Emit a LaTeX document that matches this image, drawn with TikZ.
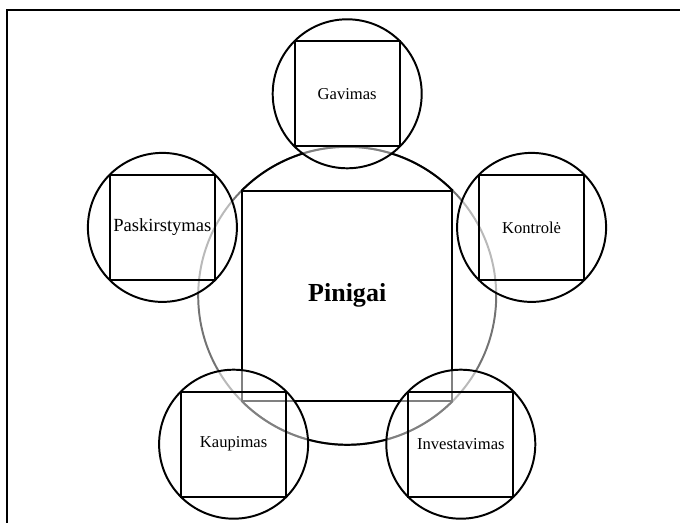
\documentclass[tikz,border=0pt]{standalone}
\usepackage{fontspec}
\setmainfont{Liberation Serif}
\usetikzlibrary{positioning}

\begin{document}
\begin{tikzpicture}[
    ring/.style={draw, circle, line width=1.4pt, fill=white, fill opacity=0.5, minimum size=3.725cm, inner sep=0pt},
    cell/.style={draw, line width=1.4pt, minimum size=2.625cm, inner sep=0pt, font=\fontsize{11.8}{14}\selectfont, align=center},
    hubline/.style={line width=1.4pt},
]
\useasboundingbox (0,0) rectangle (17,13.075);

% Frame
\draw[line width=1.5pt] (0.175,0) -- (0.175,12.825) -- (17,12.825);

% Centre: Pinigai
\coordinate (mid) at (8.68,5.68);
\draw[hubline, black!55] (mid) circle[radius=3.725cm];
\draw[hubline] ([shift={(45:3.725cm)}]mid) arc[start angle=45, end angle=135, radius=3.725cm];
\draw[hubline] ([shift={(225:3.725cm)}]mid) arc[start angle=225, end angle=315, radius=3.725cm];
\node[cell, minimum size=5.25cm, font=\fontsize{18.5}{22}\selectfont\bfseries] (pin) at (mid) {Pinigai};

% Outer rings
\node[ring] (gavR) at (8.68,10.73) {};
\node[ring] (pasR) at (4.06,7.39) {};
\node[ring] (konR) at (13.29,7.39) {};
\node[ring] (kauR) at (5.84,1.97) {};
\node[ring] (invR) at (11.52,1.97) {};

% Boxes
\node[cell] (gav) at (gavR) {Gavimas};
\node[cell, font=\fontsize{13.2}{15}\selectfont] (pas) at (pasR) {Paskirstymas};
\node[cell] (kon) at (konR) {Kontrolė};
\node[cell] (kau) at (kauR) {Kaupimas};
\node[cell] (inv) at (invR) {Investavimas};

\end{tikzpicture}
\end{document}
